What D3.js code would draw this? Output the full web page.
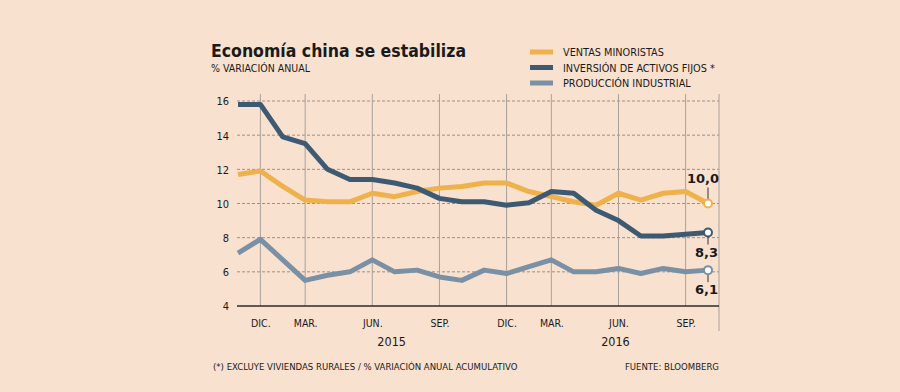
<!DOCTYPE html>
<html>
<head>
<meta charset="utf-8">
<script src="https://cdn.jsdelivr.net/npm/d3@7"></script>
<style>
  body { margin: 0; background: #f9e1cf; }
  svg { display: block; }
  text { font-family: "DejaVu Sans Condensed", "DejaVu Sans", sans-serif; fill: #1a1a1a; }
</style>
</head>
<body>
<div id="chart"></div>
<script>
// periods (Chinese data combines Jan-Feb, so no Feb point)
var periods = ['2014-11','2014-12','2015-02','2015-03','2015-04','2015-05','2015-06','2015-07','2015-08','2015-09','2015-10',
               '2015-11','2015-12','2016-02','2016-03','2016-04','2016-05','2016-06','2016-07','2016-08','2016-09','2016-10'];

var ventas    = [11.7, 11.9, 11.0, 10.2, 10.1, 10.1, 10.6, 10.4, 10.7, 10.9, 11.0, 11.2, 11.2, 10.7, 10.4, 10.1, 9.9, 10.6, 10.2, 10.6, 10.7, 10.0];
var inversion = [15.8, 15.8, 13.9, 13.5, 12.0, 11.4, 11.4, 11.2, 10.9, 10.3, 10.1, 10.1, 9.9, 10.05, 10.7, 10.6, 9.6, 9.0, 8.1, 8.1, 8.2, 8.3];
var produccion = [7.1, 7.9, 6.7, 5.5, 5.8, 6.0, 6.7, 6.0, 6.1, 5.7, 5.5, 6.1, 5.9, 6.3, 6.7, 6.0, 6.0, 6.2, 5.9, 6.2, 6.0, 6.1];

var seriesNames = ['VENTAS MINORISTAS', 'INVERSIÓN DE ACTIVOS FIJOS *', 'PRODUCCIÓN INDUSTRIAL'];
var seriesColors = ['#efb14c', '#3e5a73', '#7a91a5'];
var lastLabels = ['10,0', '8,3', '6,1'];

var yTicks = [4, 6, 8, 10, 12, 14, 16];
var xTickIdx = [1, 3, 6, 9, 12, 14, 17, 20];
var xTickLabels = ['DIC.', 'MAR.', 'JUN.', 'SEP.', 'DIC.', 'MAR.', 'JUN.', 'SEP.'];
var years = [{label: '2015', from: 2, to: 12}, {label: '2016', from: 13, to: 21}];

var W = 900, H = 392;
var svg = d3.select('#chart').append('svg').attr('width', W).attr('height', H);
svg.append('rect').attr('width', W).attr('height', H).attr('fill', '#f9e1cf');

var x = d3.scaleLinear().domain([0, periods.length - 1]).range([238, 708]);
var y = d3.scaleLinear().domain([4, 16]).range([306, 101]);
var left = 237, right = 719;

// grid
svg.append('g').selectAll('line').data(yTicks.filter(function(d) { return d > 4; }))
  .enter().append('line')
  .attr('x1', left).attr('x2', right)
  .attr('y1', function(d) { return y(d); }).attr('y2', function(d) { return y(d); })
  .attr('stroke', '#9a9088').attr('stroke-width', 1).attr('stroke-dasharray', '3,2');

svg.append('g').selectAll('line').data(xTickIdx)
  .enter().append('line')
  .attr('x1', function(d) { return x(d); }).attr('x2', function(d) { return x(d); })
  .attr('y1', 94).attr('y2', 306)
  .attr('stroke', '#a9a09a').attr('stroke-width', 1);

svg.append('line').attr('x1', right).attr('x2', right).attr('y1', 94).attr('y2', 331)
  .attr('stroke', '#a9a09a').attr('stroke-width', 1);

// y axis labels
var yAxis = d3.axisLeft(y).tickValues(yTicks).tickSize(0).tickPadding(0);
var yg = svg.append('g').attr('transform', 'translate(229,0)').call(yAxis);
yg.select('.domain').remove();
yg.selectAll('text').style('font-size', '11px').attr('fill', '#1a1a1a').attr('dy', '0.35em')
  .style('font-family', '"DejaVu Sans Condensed", sans-serif');

// x axis
var xAxis = d3.axisBottom(x).tickValues(xTickIdx).tickSize(0).tickPadding(14)
  .tickFormat(function(d, i) { return xTickLabels[i]; });
var xg = svg.append('g').attr('transform', 'translate(0,306)').call(xAxis);
xg.select('.domain').remove();
xg.selectAll('text').style('font-size', '10.5px').attr('fill', '#1a1a1a')
  .style('font-family', '"DejaVu Sans Condensed", sans-serif');
svg.append('line').attr('x1', left).attr('x2', right).attr('y1', 306).attr('y2', 306)
  .attr('stroke', '#2b2b2b').attr('stroke-width', 1.5);

svg.append('g').selectAll('text').data(years).enter().append('text')
  .attr('x', function(d) { return (x(d.from) + x(d.to)) / 2 - 3; })
  .attr('y', 346).attr('text-anchor', 'middle')
  .style('font-size', '12.5px').text(function(d) { return d.label; });

// lines
var line = d3.line()
  .x(function(d, i) { return x(i); })
  .y(function(d) { return y(d); });

var allSeries = [produccion, ventas, inversion];
var allColors = [seriesColors[2], seriesColors[0], seriesColors[1]];
allSeries.forEach(function(s, k) {
  svg.append('path').datum(s)
    .attr('d', line).attr('fill', 'none')
    .attr('stroke', allColors[k]).attr('stroke-width', 5)
    .attr('stroke-linejoin', 'round');
});

// end markers + value labels
var ends = [ventas, inversion, produccion];
ends.forEach(function(s, k) {
  var lx = x(s.length - 1), ly = y(s[s.length - 1]);
  var above = k === 0;
  svg.append('line').attr('x1', lx).attr('x2', lx)
    .attr('y1', above ? ly - 16 : ly)
    .attr('y2', above ? ly : ly + 12)
    .attr('stroke', '#333').attr('stroke-width', 1);
  svg.append('circle').attr('cx', lx).attr('cy', ly).attr('r', 4)
    .attr('fill', '#fff').attr('stroke', seriesColors[k]).attr('stroke-width', 2);
  svg.append('text')
    .attr('x', above ? lx - 5 : lx + 10).attr('y', above ? ly - 21 : ly + 24)
    .attr('text-anchor', above ? 'middle' : 'end')
    .style('font-family', '"DejaVu Sans", sans-serif')
    .style('font-size', '13px').style('font-weight', 'bold')
    .text(lastLabels[k]);
});

// title
svg.append('text').attr('x', 211).attr('y', 57)
  .style('font-family', '"DejaVu Sans Condensed", "DejaVu Sans", sans-serif')
  .style('font-size', '17.5px').style('font-weight', 'bold')
  .text('Economía china se estabiliza');
svg.append('text').attr('x', 211).attr('y', 72)
  .style('font-size', '10.5px').text('% VARIACIÓN ANUAL');

// legend
var legend = svg.append('g').selectAll('g').data(seriesNames).enter().append('g')
  .attr('transform', function(d, i) { return 'translate(530,' + (52 + i * 15.5) + ')'; });
legend.append('line').attr('x1', 0).attr('x2', 23).attr('y1', 0).attr('y2', 0)
  .attr('stroke', function(d, i) { return seriesColors[i]; }).attr('stroke-width', 5);
legend.append('text').attr('x', 33).attr('y', 4)
  .style('font-size', '10.8px').text(function(d) { return d; });

// footer
svg.append('text').attr('x', 213).attr('y', 370)
  .style('font-size', '9.5px').text('(*) EXCLUYE VIVIENDAS RURALES / % VARIACIÓN ANUAL ACUMULATIVO');
svg.append('text').attr('x', 719).attr('y', 370).attr('text-anchor', 'end')
  .style('font-size', '9.5px').text('FUENTE: BLOOMBERG');
</script>
</body>
</html>
